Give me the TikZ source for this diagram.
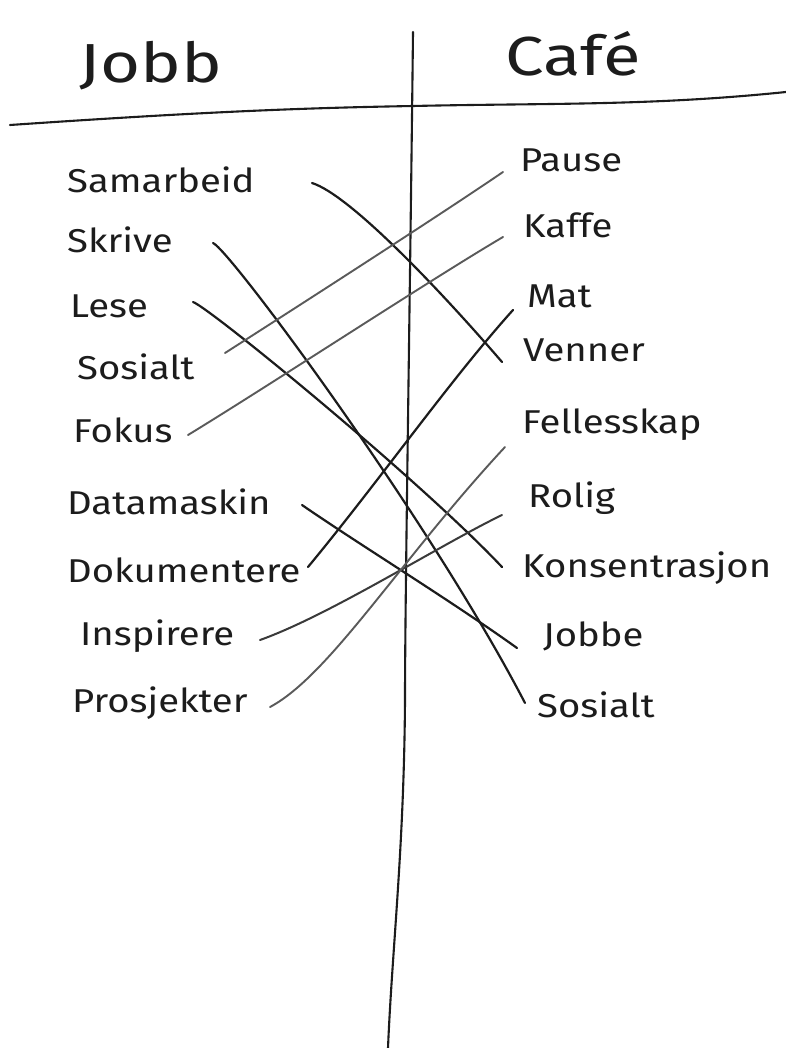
\documentclass[tikz,border=0pt]{standalone}
\usepackage{fontspec}
\setmainfont{Fira Sans}
\newfontfamily\handfont[FakeStretch=1.16]{Fira Sans}
\newfontfamily\headfont[FakeStretch=1.25]{Fira Sans}
\usetikzlibrary{calc}
\definecolor{ink}{HTML}{1C1C1C}
\definecolor{pencil}{HTML}{5A5A5A}
\definecolor{darkpencil}{HTML}{3A3A3A}
\tikzset{
  word/.style={anchor=west, inner sep=0pt, text=ink, font=\handfont\fontsize{33}{36}\selectfont},
  head/.style={inner sep=0pt, text=ink, font=\headfont\fontsize{55}{60}\selectfont},
  link/.style={draw=ink, line width=2.2pt, line cap=round},
  greylink/.style={draw=pencil, line width=1.9pt, line cap=round},
  midlink/.style={draw=darkpencil, line width=2pt, line cap=round},
  rule/.style={draw=ink, line width=2.1pt, line cap=round}
}
\begin{document}
\begin{tikzpicture}[x=1pt,y=-1pt]
\useasboundingbox[fill=white] (0,0) rectangle (786,1048);

% table rules
\draw[rule] (10,125) .. controls (200,112) and (300,108) .. (413,106)
  .. controls (550,103) and (650,106) .. (786,92);
\draw[rule] (413,32) .. controls (410,300) and (405,600) .. (405,700)
  .. controls (404,850) and (392,950) .. (388,1048);

% headings
\node[head] (jobb) at (151,66) {Jobb};
\node[head] (cafe) at (573,54) {Café};

% left column
\node[word] (sam) at (67,180) {Samarbeid};
\node[word] (skr) at (67,240) {Skrive};
\node[word] (les) at (70,306) {Lese};
\node[word] (sosl) at (77,367) {Sosialt};
\node[word] (fok) at (73,430) {Fokus};
\node[word] (dat) at (67,502) {Datamaskin};
\node[word] (dok) at (67,570) {Dokumentere};
\node[word] (ins) at (80,636) {Inspirere};
\node[word] (pro) at (72,703) {Prosjekter};

% right column
\node[word] (pau) at (520,160) {Pause};
\node[word] (kaf) at (523,225) {Kaffe};
\node[word] (mat) at (527,296) {Mat};
\node[word] (ven) at (523,350) {Venner};
\node[word] (fel) at (522,425) {Fellesskap};
\node[word] (rol) at (528,498) {Rolig};
\node[word] (kon) at (522,568) {Konsentrasjon};
\node[word] (job) at (543,636) {Jobbe};
\node[word] (sosr) at (537,705) {Sosialt};

% connectors
\draw[link] ($(sam.west)+(245,3)$) .. controls (350,195) and (440,290) .. ($(ven.west)+(-21,12)$);
\draw[link] ($(skr.west)+(146,3)$) .. controls (230,250) and (430,520) .. ($(sosr.west)+(-12,-2)$);
\draw[link] ($(les.west)+(123,-4)$) .. controls (210,308) and (420,480) .. ($(kon.west)+(-20,-1)$);
\draw[greylink] ($(sosl.west)+(148,-14)$) .. controls (300,305) and (440,215) .. ($(pau.west)+(-17,12)$);
\draw[greylink] ($(fok.west)+(115,5)$) .. controls (270,385) and (430,280) .. ($(kaf.west)+(-20,12)$);
\draw[link] ($(dat.west)+(235,3)$) .. controls (360,545) and (450,600) .. ($(job.west)+(-26,12)$);
\draw[link] ($(dok.west)+(241,-3)$) .. controls (380,480) and (450,380) .. ($(mat.west)+(-14,14)$);
\draw[midlink] ($(ins.west)+(180,4)$) .. controls (330,615) and (440,545) .. ($(rol.west)+(-26,17)$);
\draw[greylink] ($(pro.west)+(198,4)$) .. controls (330,675) and (400,560) .. ($(fel.west)+(-17,22)$);
\end{tikzpicture}
\end{document}
